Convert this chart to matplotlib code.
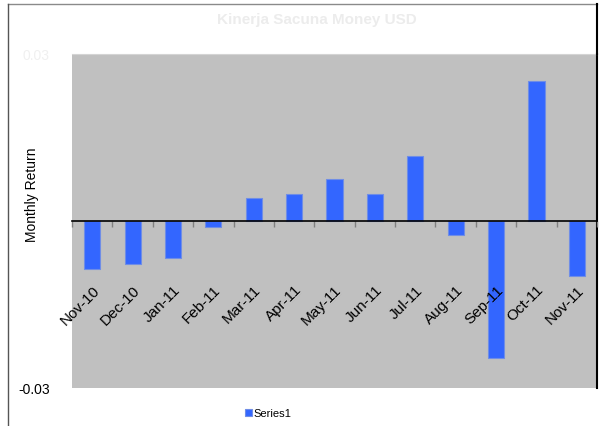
import numpy as np
import matplotlib.pyplot as plt
from matplotlib.lines import Line2D

plt.rcParams['font.family'] = ['Liberation Sans', 'DejaVu Sans']

months = ['Nov-10', 'Dec-10', 'Jan-11', 'Feb-11', 'Mar-11', 'Apr-11', 'May-11',
          'Jun-11', 'Jul-11', 'Aug-11', 'Sep-11', 'Oct-11', 'Nov-11']
returns = [-0.0087, -0.0078, -0.0067, -0.0010, 0.0042, 0.0049, 0.0076,
           0.0049, 0.0117, -0.0025, -0.0246, 0.0251, -0.0098]
ytick_vals = [-0.03, 0.03]
ytick_labels = ['-0.03', '0.03']

W, H = 602, 427
fig = plt.figure(figsize=(W/100, H/100), dpi=100)
fig.patch.set_facecolor('white')

# plot area in pixel coords
x0, x1, y0, y1 = 72, 597, 55, 389
ax = fig.add_axes([x0/W, 1-y1/H, (x1-x0)/W, (y1-y0)/H])
ax.set_facecolor('#c0c0c0')
ax.set_axisbelow(False)  # labels drawn over the bars

x = np.arange(len(months))
ax.bar(x, returns, width=0.4, color='#3366ff', edgecolor='#6f8de6', linewidth=0.8,
       label='Series1', zorder=2)
ax.set_xlim(-0.5, len(months)-0.5)
ax.set_ylim(-0.03, 0.03)

ax.spines['left'].set_visible(False)
ax.spines['top'].set_color('#d4d4d4')
ax.spines['right'].set_color('black')
ax.spines['right'].set_linewidth(1.5)
ax.spines['bottom'].set_position(('data', 0))
ax.spines['bottom'].set_color('black')
ax.spines['bottom'].set_linewidth(1.2)
ax.spines['bottom'].set_zorder(4)

ax.set_xticks(x)
ax.set_xticklabels(months, rotation=45, ha='right', rotation_mode='anchor', fontsize=11)
ax.tick_params(axis='x', which='major', length=0, pad=44)
ax.set_xticks(np.arange(len(months)+1) - 0.5, minor=True)
ax.tick_params(axis='x', which='minor', length=4, color='#808080', width=1, direction='out')

ax.set_yticks(ytick_vals)
ax.set_yticklabels(ytick_labels, fontsize=10)
ax.tick_params(axis='y', length=0, pad=16)
ax.get_yticklabels()[1].set_color('#f0f0f0')

fig.text(32/W, 1-195/H, 'Monthly Return', rotation=90, ha='center', va='center', fontsize=10)
fig.text(317/W, 1-20/H, 'Kinerja Sacuna Money USD', ha='center', va='center',
         fontsize=11, fontweight='bold', color='#ececec')

fig.legend(loc='center left', bbox_to_anchor=(245/W, 1-414/H), frameon=False, fontsize=8,
           handlelength=0.6, handleheight=0.6, handletextpad=0.2, borderpad=0, borderaxespad=0)

# outer frame lines
fig.add_artist(Line2D([8/W, 597/W], [1-5/H, 1-5/H], color='#8a8a8a', lw=1))
fig.add_artist(Line2D([8/W, 8/W], [1-5/H, 0], color='#555555', lw=1))
fig.add_artist(Line2D([597/W, 597/W], [1-5/H, 1-55/H], color='black', lw=1.5))

fig.savefig('out.png', dpi=100)
